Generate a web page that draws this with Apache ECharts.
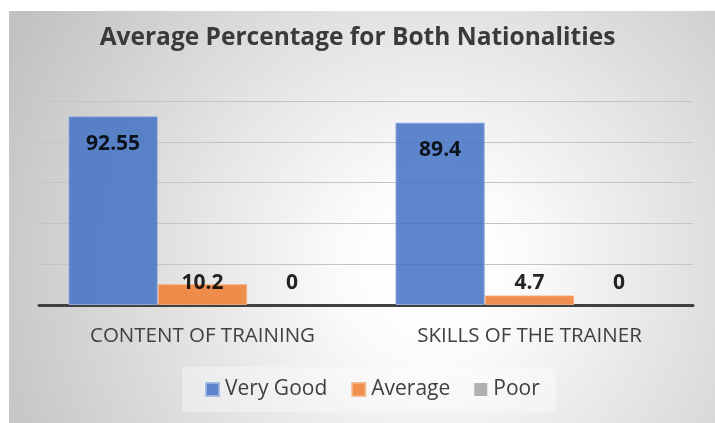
<!DOCTYPE html>
<html>
<head>
<meta charset="utf-8">
<script src="https://cdn.jsdelivr.net/npm/echarts@6/dist/echarts.min.js"></script>
<style>
html,body{margin:0;padding:0;background:#ffffff;}
#chart{width:715px;height:423px;}
</style>
</head>
<body>
<div id="chart"></div>
<script>
var titleText = 'Average Percentage for Both Nationalities';
var categories = ['CONTENT OF TRAINING', 'SKILLS OF THE TRAINER'];
var seriesNames = ['Very Good', 'Average', 'Poor'];
var veryGood = [92.55, 89.4];
var average = [10.2, 4.7];
var poor = [0, 0];
var yMin = 0, yMax = 100, yInterval = 20;

var FONT = "'Open Sans', 'Noto Sans', sans-serif";
var chart = echarts.init(document.getElementById('chart'), null, {renderer: 'canvas'});

function barSeries(name, data, color, border, borderWidth, labelCfg) {
  return {
    name: name,
    type: 'bar',
    data: data,
    barGap: '0%',
    barCategoryGap: '18%',
    itemStyle: {color: color, opacity: 0.86, borderColor: border, borderWidth: borderWidth},
    label: Object.assign({
      show: true,
      color: '#000000',
      fontFamily: FONT,
      fontWeight: 'bold',
      fontSize: 21
    }, labelCfg),
    emphasis: {disabled: true}
  };
}

chart.setOption({
  animation: false,
  backgroundColor: 'transparent',
  graphic: [{
    type: 'rect',
    z: -100,
    silent: true,
    shape: {x: 9, y: 11, width: 706, height: 412},
    style: {
      fill: new echarts.graphic.RadialGradient(0.6, 0.62, 1.15, [
        {offset: 0, color: '#ffffff'},
        {offset: 0.18, color: '#fcfcfc'},
        {offset: 1, color: '#c2c2c2'}
      ])
    }
  }],
  title: {
    text: titleText,
    left: 'center',
    top: 21,
    textStyle: {fontFamily: FONT, fontWeight: 'bold', fontSize: 24.5, color: '#3a3a3a'}
  },
  legend: {
    data: seriesNames,
    left: 182,
    top: 367,
    itemWidth: 13,
    itemHeight: 13,
    itemGap: 24,
    icon: 'rect',
    padding: [12, 16, 12, 23],
    backgroundColor: 'rgba(255,255,255,0.35)',
    textStyle: {fontFamily: FONT, fontSize: 21, color: '#404040', padding: [0, 0, 0, 1]}
  },
  grid: {left: 39, right: 22, top: 101, bottom: 118, containLabel: false},
  xAxis: {
    type: 'category',
    data: categories,
    axisLine: {show: true, lineStyle: {color: '#404040', width: 3}},
    axisTick: {show: false},
    axisLabel: {fontFamily: FONT, fontSize: 20.5, color: '#404040', margin: 21},
    splitLine: {show: false}
  },
  yAxis: {
    type: 'value',
    min: yMin,
    max: yMax,
    interval: yInterval,
    axisLine: {show: false},
    axisTick: {show: false},
    axisLabel: {show: false},
    splitLine: {show: true, lineStyle: {color: '#c4c4c4', width: 1}}
  },
  series: [
    barSeries(seriesNames[0], veryGood, '#4472C4', '#9db4e0', 1, {position: 'insideTop', distance: 17}),
    barSeries(seriesNames[1], average, '#ED7D31', '#f5b183', 1, {position: 'insideBottom', distance: 11}),
    barSeries(seriesNames[2], poor, '#A5A5A5', '#cfcfcf', 0, {position: 'insideBottom', distance: 11})
  ]
});
</script>
</body>
</html>
